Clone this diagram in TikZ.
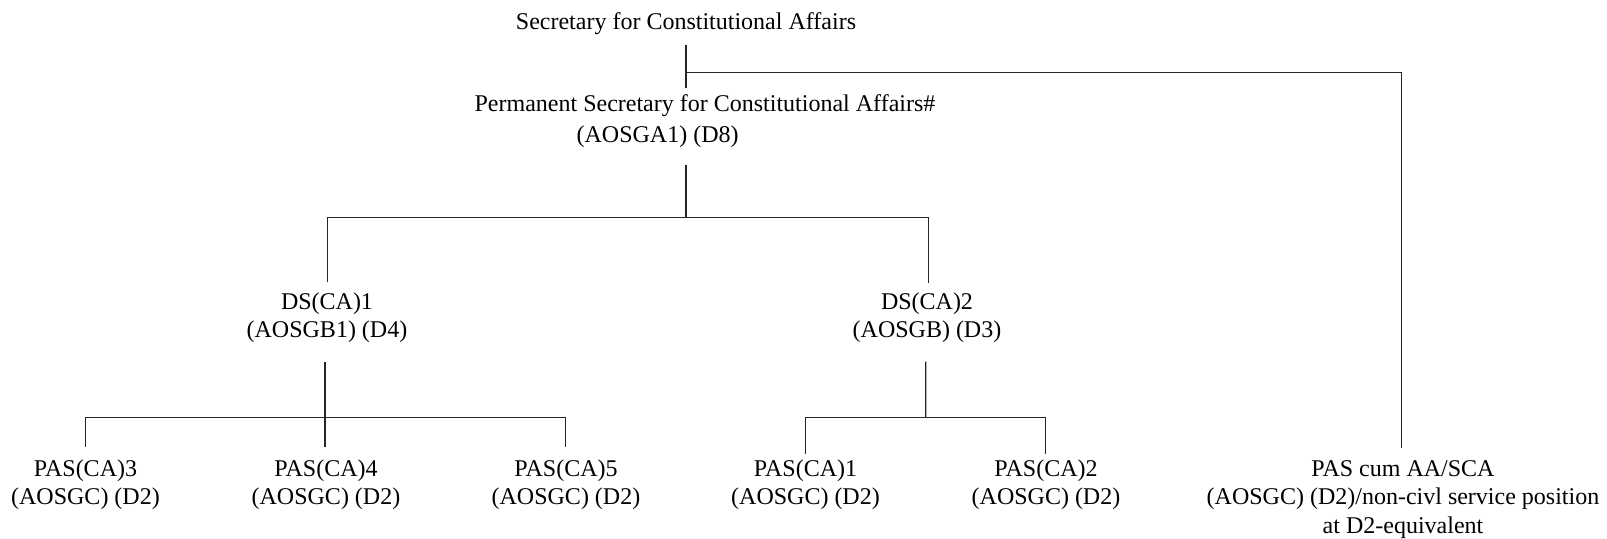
\documentclass[tikz,border=0pt]{standalone}
\usepackage{fontspec}
\setmainfont{Liberation Serif}
\usetikzlibrary{positioning, calc}
\tikzstyle{post} = [inner sep=0pt, outer sep=0pt, align=center, anchor=base, font=\fontsize{12}{14.25}\selectfont]
\tikzstyle{link} = [line width=0.6pt, draw=black!85]

\begin{document}
\begin{tikzpicture}[x=0.5pt, y=-0.5pt]
			\useasboundingbox (0,0) rectangle (1607,539);
			% base = baseline of the last line
			\node (sec) [post] at (686,30) {Secretary for Constitutional Affairs};
			\node (permsec) [post, align=left, font=\fontsize{12}{15.5}\selectfont] at (705,142.5) {Permanent Secretary for Constitutional Affairs\#\\\hspace*{51pt}(AOSGA1) (D8)};
			\node (ds1) [post] at (327,338) {DS(CA)1\\(AOSGB1) (D4)};
			\node (ds2) [post] at (927,338) {DS(CA)2\\(AOSGB) (D3)};
			\node (pas3) [post] at (85.5,505) {PAS(CA)3\\(AOSGC) (D2)};
			\node (pas4) [post] at (326,505) {PAS(CA)4\\(AOSGC) (D2)};
			\node (pas5) [post] at (566,505) {PAS(CA)5\\(AOSGC) (D2)};
			\node (pas1) [post] at (805.5,505) {PAS(CA)1\\(AOSGC) (D2)};
			\node (pas2) [post] at (1046,505) {PAS(CA)2\\(AOSGC) (D2)};
			\node (pascum) [post] at (1403,533.5) {PAS cum AA/SCA\\(AOSGC) (D2)/non-civl service position\\at D2-equivalent};
			
			\coordinate (split) at (686,72.7);
			\coordinate (dsbus) at (686,217.3);
			\coordinate (pasbusA) at (325,417.3);
			\coordinate (pasbusB) at (925.7,417.3);
			
			\draw[link] ($(sec.base)+(0,15)$) -- ($(sec.base |- permsec.base)+(0,-54.5)$);
			\draw[link] (split) -| ($(pascum.base)+(-1.5,-85.8)$);
			\draw[link] ($(sec.base |- permsec.base)+(0,22.5)$) -- (dsbus);
			\draw[link] ($(ds1.base)+(0.7,-56)$) |- (dsbus) -| ($(ds2.base)+(1.3,-55)$);
			
			\draw[link] ($(ds1.base)+(-2,23.7)$) -- ($(ds1.base |- pas4.base)+(-2,-58.3)$);
			\draw[link] ($(pas3.base)+(0,-58)$) |- (pasbusA) -| ($(pas5.base)+(-0.7,-58.3)$);
			
			\draw[link] ($(ds2.base)+(-1.3,23.7)$) -- (pasbusB);
			\draw[link] ($(pas1.base)+(0,-51)$) |- (pasbusB) -| ($(pas2.base)+(-0.7,-51)$);
\end{tikzpicture}
\end{document}
